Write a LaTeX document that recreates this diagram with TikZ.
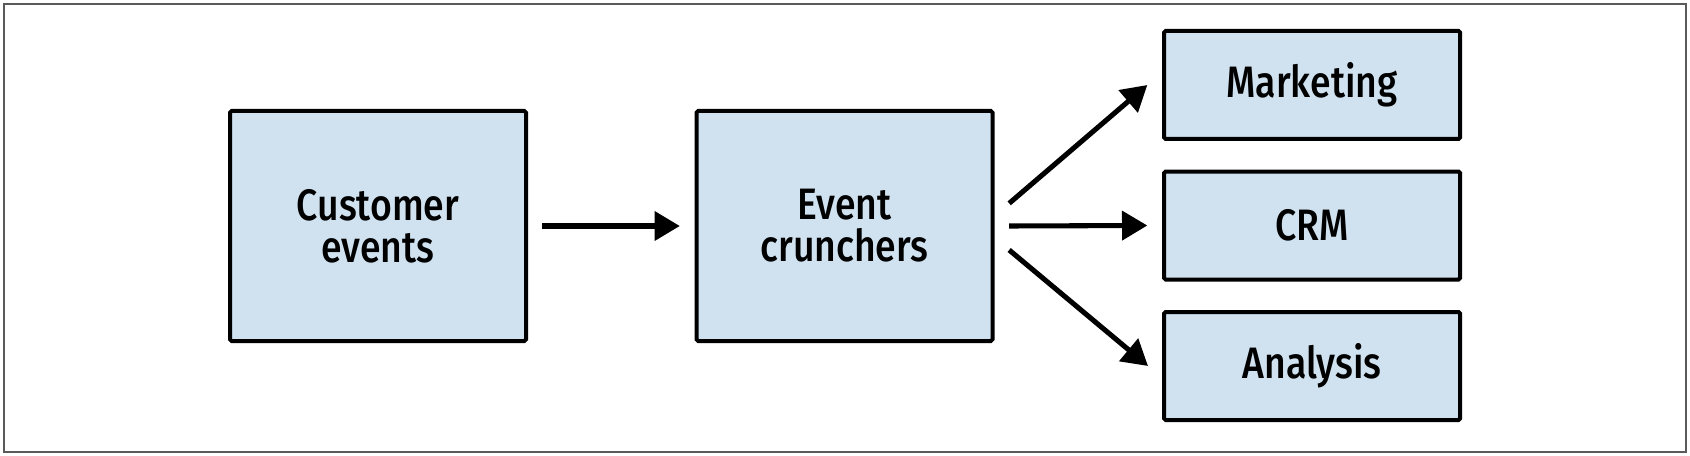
\documentclass[tikz,border=0pt]{standalone}
\usepackage{fontspec}
\setmainfont{Fira Sans}[UprightFont=* Medium, FakeStretch=0.85]
\usetikzlibrary{arrows.meta}
\definecolor{boxfill}{RGB}{208,226,240}
\definecolor{framegray}{RGB}{90,90,90}
\tikzset{
  blk/.style={draw=black, fill=boxfill, line width=3pt, rounded corners=1.2pt,
    align=center, inner sep=0pt, font=\fontsize{33pt}{31.5pt}\selectfont},
  bigblk/.style={blk, minimum width=222pt, minimum height=172.5pt},
  smallblk/.style={blk, minimum width=222pt, minimum height=81pt},
  arr/.style={line width=3.8pt, -{Triangle[length=19pt,width=21.5pt]}}
}
\begin{document}
\begin{tikzpicture}[x=0.75pt,y=-0.75pt]
\useasboundingbox (0,0) rectangle (1690,456);
\draw[framegray, line width=1.1pt] (4,4) rectangle (1686,452);
\node[bigblk] (ce) at (378,226) {Customer\\events};
\node[bigblk] (ec) at (844.5,226) {Event\\crunchers};
\node[smallblk] (mk) at (1312,85) {Marketing};
\node[smallblk] (crm) at (1312,225.5) {CRM};
\node[smallblk] (an) at (1312,366) {Analysis};
\draw[arr] ([xshift=10.5pt]ce.east) -- ([xshift=-11pt]ec.west);
\draw[arr] ([shift={(11pt,17pt)}]ec.east) -- ([xshift=-11pt]mk.west);
\draw[arr] ([xshift=11pt]ec.east) -- ([xshift=-11pt]crm.west);
\draw[arr] ([shift={(11pt,-18pt)}]ec.east) -- ([xshift=-10.5pt]an.west);
\end{tikzpicture}
\end{document}
